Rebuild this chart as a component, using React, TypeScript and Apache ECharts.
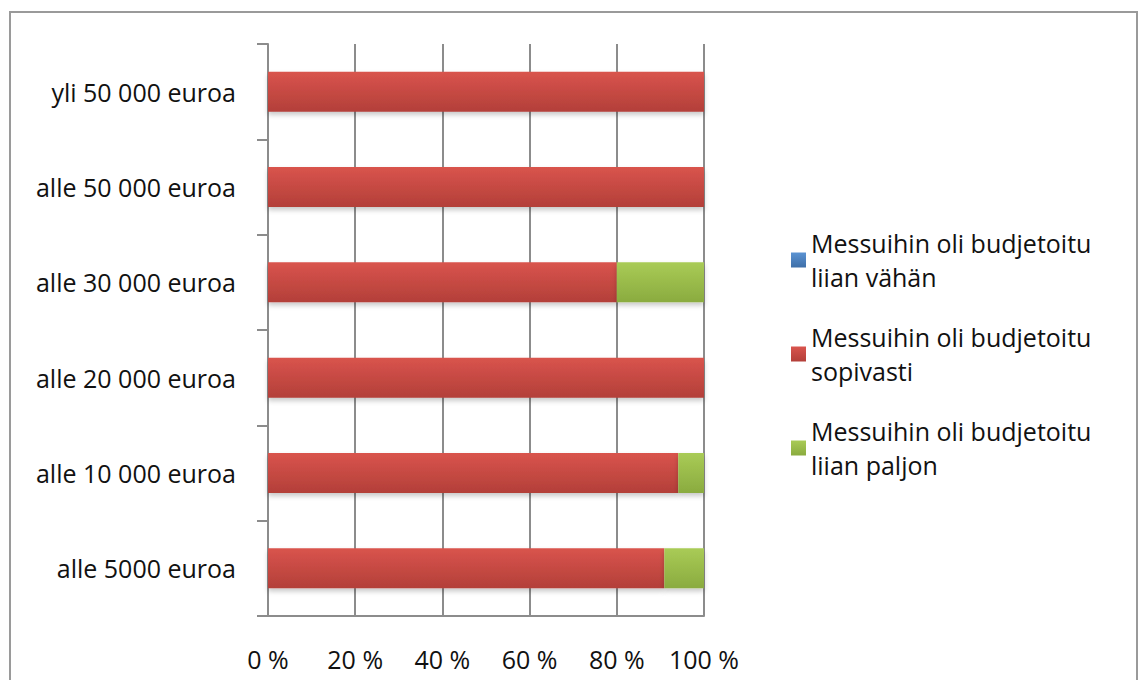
import React, { useEffect, useRef } from "react";
import * as echarts from "echarts";

const categories = [
  "alle 5000 euroa",
  "alle 10 000 euroa",
  "alle 20 000 euroa",
  "alle 30 000 euroa",
  "alle 50 000 euroa",
  "yli 50 000 euroa",
];

const seriesNames = [
  "Messuihin oli budjetoitu liian vähän",
  "Messuihin oli budjetoitu sopivasti",
  "Messuihin oli budjetoitu liian paljon",
];

// shares in percent, bottom category first
const liianVahan = [0, 0, 0, 0, 0, 0];
const sopivasti = [90.9, 94.1, 100, 80, 100, 100];
const liianPaljon = [9.1, 5.9, 0, 20, 0, 0];

const xTicks = [0, 20, 40, 60, 80, 100];

const FONT = "'Open Sans', sans-serif";
const FONT_SIZE = 25;

const grad = (top: string, bottom: string) =>
  new echarts.graphic.LinearGradient(0, 0, 0, 1, [
    { offset: 0, color: top },
    { offset: 1, color: bottom },
  ]);

export default function App() {
  const ref = useRef<HTMLDivElement>(null);

  useEffect(() => {
    if (!ref.current) return;
    const chart = echarts.init(ref.current, null, { renderer: "svg" });
    const axisGray = "#8c8c8c";

    const barBase = {
      type: "bar" as const,
      stack: "total",
      barWidth: 40,
    };

    chart.setOption({
      animation: false,
      backgroundColor: "#ffffff",
      graphic: [
        {
          type: "rect",
          shape: { x: 10, y: 12, width: 1127, height: 690 },
          style: { fill: "none", stroke: "#9a9a9a", lineWidth: 2 },
          silent: true,
        },
      ],
      grid: { left: 268, right: 435, top: 44, bottom: 64 },
      legend: {
        orient: "vertical",
        left: 786,
        top: 204,
        itemWidth: 15,
        itemHeight: 15,
        itemGap: -8,
        icon: "rect",
        data: seriesNames,
        formatter: (name: string) => {
          const parts = name.split(" ");
          return parts.slice(0, 3).join(" ") + "\n" + parts.slice(3).join(" ");
        },
        textStyle: {
          fontFamily: FONT,
          fontSize: FONT_SIZE,
          color: "#111",
          lineHeight: 34,
          padding: [34, 0, 0, 0],
        },
      },
      xAxis: {
        type: "value",
        min: xTicks[0],
        max: xTicks[xTicks.length - 1],
        interval: 20,
        axisLine: { show: true, lineStyle: { color: axisGray, width: 2 } },
        axisTick: { show: false },
        splitLine: { show: true, lineStyle: { color: axisGray, width: 2 } },
        axisLabel: {
          margin: 30,
          fontFamily: FONT,
          fontSize: FONT_SIZE,
          color: "#111",
          formatter: (v: number) => `${v} %`,
        },
      },
      yAxis: {
        type: "category",
        data: categories,
        axisLine: { show: true, lineStyle: { color: axisGray, width: 2 } },
        axisTick: { show: true, length: 11, lineStyle: { color: axisGray, width: 2 } },
        axisLabel: {
          margin: 32,
          fontFamily: FONT,
          fontSize: FONT_SIZE,
          color: "#111",
        },
        splitLine: { show: false },
      },
      series: [
        {
          ...barBase,
          name: seriesNames[0],
          data: liianVahan,
          itemStyle: { color: grad("#5b93d3", "#3e6fa8") },
        },
        {
          ...barBase,
          name: seriesNames[1],
          data: sopivasti,
          itemStyle: {
            color: grad("#d9544d", "#b33f39"),
            shadowColor: "rgba(0,0,0,0.22)",
            shadowBlur: 5,
            shadowOffsetY: 3,
          },
        },
        {
          ...barBase,
          name: seriesNames[2],
          data: liianPaljon,
          itemStyle: {
            color: grad("#a9cb56", "#8aab3f"),
            shadowColor: "rgba(0,0,0,0.22)",
            shadowBlur: 5,
            shadowOffsetY: 3,
          },
        },
      ],
    });

    return () => chart.dispose();
  }, []);

  return (
    <div
      ref={ref}
      style={{ position: "fixed", left: 0, top: 0, width: 1139, height: 680 }}
    />
  );
}
